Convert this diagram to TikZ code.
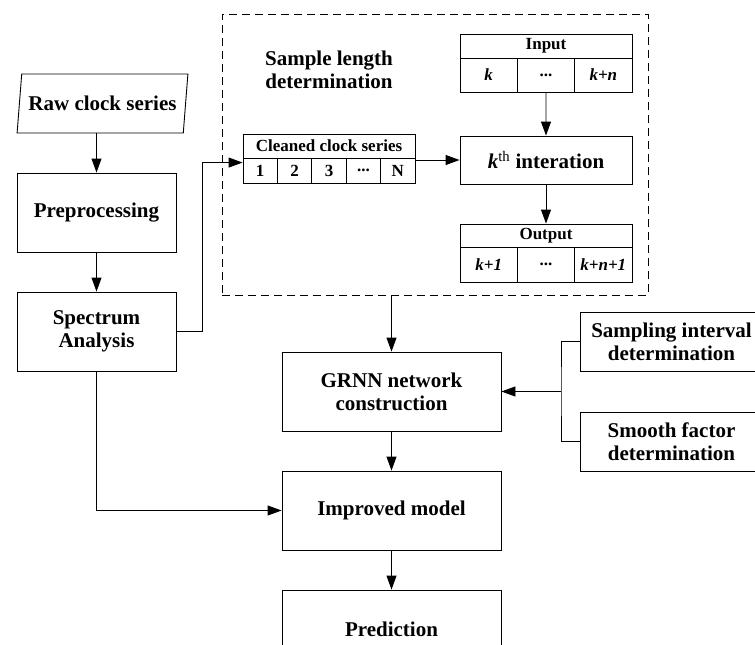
\documentclass[tikz,border=0pt]{standalone}
\usepackage{fontspec}
\setmainfont{Liberation Serif}
\usetikzlibrary{arrows.meta,positioning,shapes.geometric}
\newcommand{\celldots}{...}

\begin{document}
\begin{tikzpicture}[x=1pt, y=-1pt,
  font=\fontsize{21}{23}\selectfont\bfseries,
  box/.style={draw, line width=0.9pt, inner sep=0pt, align=center, minimum width=159pt, minimum height=79pt},
  tcell/.style={draw, line width=0.9pt, inner sep=0pt, font=\fontsize{17}{19}\selectfont\bfseries},
  arr/.style={-{Triangle[length=14pt, width=10pt]}, line width=0.9pt},
  link/.style={line width=0.9pt}]
\useasboundingbox (0,0) rectangle (755,645);

% Left column
\node[trapezium, trapezium left angle=74, trapezium right angle=106, trapezium stretches=true,
  draw, line width=0.9pt, inner sep=0pt, minimum width=171pt, minimum height=59pt] (raw) at (102.5,103.5) {Raw clock series};
\node[box] (pre) at (96.5,212.5) {Preprocessing};
\node[box] (spec) at (96.5,331.5) {Spectrum\\Analysis};

% Sample length determination block
\node[draw, dash pattern=on 8pt off 5pt, line width=0.9pt, minimum width=426pt, minimum height=281pt] (sld) at (435,154.5) {};
\node[align=center] (sltitle) at (329,70) {Sample length\\determination};

% Cleaned series table
\node[tcell, minimum width=172pt, minimum height=24pt] (clean) at (329,146) {Cleaned clock series};
\foreach \i/\t in {1/1,2/2,3/3,4/\celldots,5/N}
  \node[tcell, minimum width=34.4pt, minimum height=25pt] (c\i) at (243+34.4*\i-17.2,170.5) {\t};

% Input table
\node[tcell, minimum width=172pt, minimum height=24pt] (inp) at (546,46) {Input};
\foreach \i/\t in {1/\textit{k},2/\celldots,3/\textit{k+n}}
  \node[tcell, minimum width=57.33pt, minimum height=34pt] (in\i) at (460+57.33*\i-28.67,75) {\t};

% Iteration
\node[box, minimum width=172pt, minimum height=48pt] (kth) at (546,160) {\textit{k}\textsuperscript{\normalfont th} interation};

% Output table
\node[tcell, minimum width=172pt, minimum height=23pt] (outp) at (546,235.5) {Output};
\foreach \i/\t in {1/\textit{k+1},2/\celldots,3/\textit{k+n+1}}
  \node[tcell, minimum width=57.33pt, minimum height=35pt] (out\i) at (460+57.33*\i-28.67,264.5) {\t};

% Centre column
\node[box, minimum width=219pt] (grnn) at (391.5,391.5) {GRNN network\\construction};
\node[box, minimum width=219pt] (imp) at (391.5,510.5) {Improved model};
\node[box, minimum width=219pt] (pred) at (391.5,629.5) {Prediction};

% Parameter boxes
\node[box, minimum width=183pt, minimum height=59pt] (samp) at (671.5,341.5) {Sampling interval\\determination};
\node[box, minimum width=183pt, minimum height=59pt] (smooth) at (671.5,441.5) {Smooth factor\\determination};
\coordinate (jn) at (561,391.5);

% Connectors
\draw[arr] (pre.north |- raw.south) -- (pre.north);
\draw[arr] (pre.south) -- (spec.north);
\draw[arr] (spec.east) -- ++(26,0) |- ([yshift=-5pt]c1.north west);
\draw[arr] (c5.east |- kth.west) -- (kth.west);
\draw[arr] (in2.south) -- (kth.north);
\draw[arr] (kth.south) -- (outp.north);
\draw[arr] (sld.south -| grnn.north) -- (grnn.north);
\draw[arr] (grnn.south) -- (imp.north);
\draw[arr] (imp.south) -- (pred.north);
\draw[arr] (spec.south) |- (imp.west);
\draw[link] (samp.west) -| (jn) |- (smooth.west);
\draw[arr] (jn) -- (grnn.east);
\end{tikzpicture}
\end{document}
